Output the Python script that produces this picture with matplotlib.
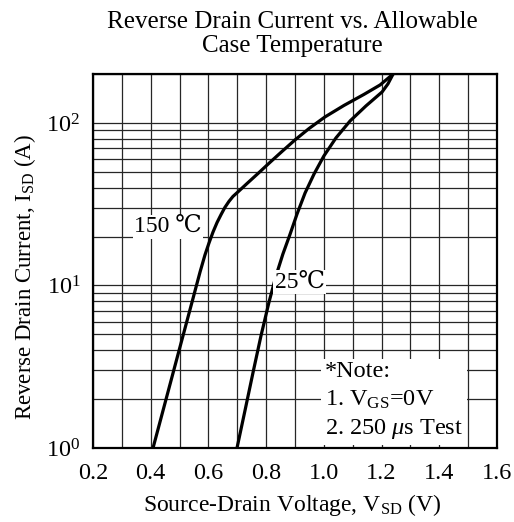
import numpy as np
import matplotlib
matplotlib.use('Agg')
import matplotlib.pyplot as plt
from matplotlib.ticker import LogLocator, MultipleLocator, NullFormatter

plt.rcParams['font.family'] = ['Liberation Serif', 'DejaVu Serif']
plt.rcParams['mathtext.fontset'] = 'custom'
plt.rcParams['mathtext.rm'] = 'Liberation Serif'
plt.rcParams['mathtext.it'] = 'Liberation Serif:italic'

# curve data
v_150 = [0.408, 0.495, 0.547, 0.571, 0.588, 0.602, 0.616, 0.630, 0.644, 0.657,
         0.671, 0.685, 0.704, 0.734, 0.772, 0.813, 0.855, 0.900, 0.949, 1.004,
         1.070, 1.139, 1.195, 1.240]
i_150 = [1.0, 3.79, 8.38, 12.11, 15.41, 18.26, 21.34, 24.42, 27.35, 30.2,
         32.88, 35.29, 37.88, 42.44, 48.9, 57.14, 66.77, 78.6, 92.5, 108.9,
         128.2, 149.8, 171.3, 200]

v_25 = [0.699, 0.727, 0.755, 0.782, 0.810, 0.834, 0.858, 0.883, 0.907, 0.935,
        0.966, 1.000, 1.042, 1.091, 1.146, 1.202, 1.222, 1.240]
i_25 = [1.0, 1.71, 2.94, 4.89, 7.91, 11.44, 15.6, 20.7, 27.5, 37.1,
        48.5, 62.6, 80.9, 102.9, 127.3, 155.2, 173.8, 200]

x_ticks = [0.2, 0.4, 0.6, 0.8, 1.0, 1.2, 1.4, 1.6]
x_ticklabels = ['0.2', '0.4', '0.6', '0.8', '1.0', '1.2', '1.4', '1.6']

fig = plt.figure(figsize=(5.14, 5.22), dpi=100)
ax = fig.add_axes([93 / 514, 1 - 448 / 522, 404 / 514, 374 / 522])

ax.plot(v_150, i_150, color='black', lw=2.3, solid_joinstyle='round')
ax.plot(v_25, i_25, color='black', lw=2.3, solid_joinstyle='round')

ax.set_yscale('log')
ax.set_xlim(0.2, 1.6)
ax.set_ylim(1, 200)

ax.set_xticks(x_ticks)
ax.set_xticklabels(x_ticklabels)
ax.xaxis.set_minor_locator(MultipleLocator(0.1))
ax.yaxis.set_major_locator(LogLocator(base=10))
ax.yaxis.set_minor_locator(LogLocator(base=10, subs=np.arange(2, 10)))
ax.yaxis.set_minor_formatter(NullFormatter())

ax.set_axisbelow(True)
ax.grid(True, which='both', color='0.15', lw=0.9)
ax.tick_params(which='both', length=0, labelsize=17.5)
ax.tick_params(axis='x', pad=11)
ax.tick_params(axis='y', pad=9)
for s in ax.spines.values():
    s.set_linewidth(1.6)

ax.text(0.46, 23, '150 \u2103', fontsize=17, ha='center', va='center',
        bbox=dict(fc='white', ec='none', pad=1))
ax.text(0.83, 10.5, '25\u2103', fontsize=17, ha='left', va='center',
        bbox=dict(fc='white', ec='none', pad=1))
ax.text(1.005, 1.1, '*Note:\n1. V$_{\\mathrm{GS}}$=0V\n2. 250 $\\mu$s Test',
        fontsize=17.5, ha='left', va='bottom', linespacing=1.37, zorder=2.2,
        bbox=dict(fc='white', ec='none', pad=3))

fig.text(292 / 514, 1 - 34 / 522,
         'Reverse Drain Current vs. Allowable\nCase Temperature',
         fontsize=18, ha='center', va='center', linespacing=1.15)
fig.text(292 / 514, 1 - 505 / 522, 'Source-Drain Voltage, V$_{\\mathrm{SD}}$ (V)',
         fontsize=17, ha='center', va='center')
fig.text(25 / 514, 1 - 277 / 522, 'Reverse Drain Current, I$_{\\mathrm{SD}}$ (A)',
         fontsize=16.5, ha='center', va='center', rotation=90)

fig.savefig('out.png', dpi=100)
